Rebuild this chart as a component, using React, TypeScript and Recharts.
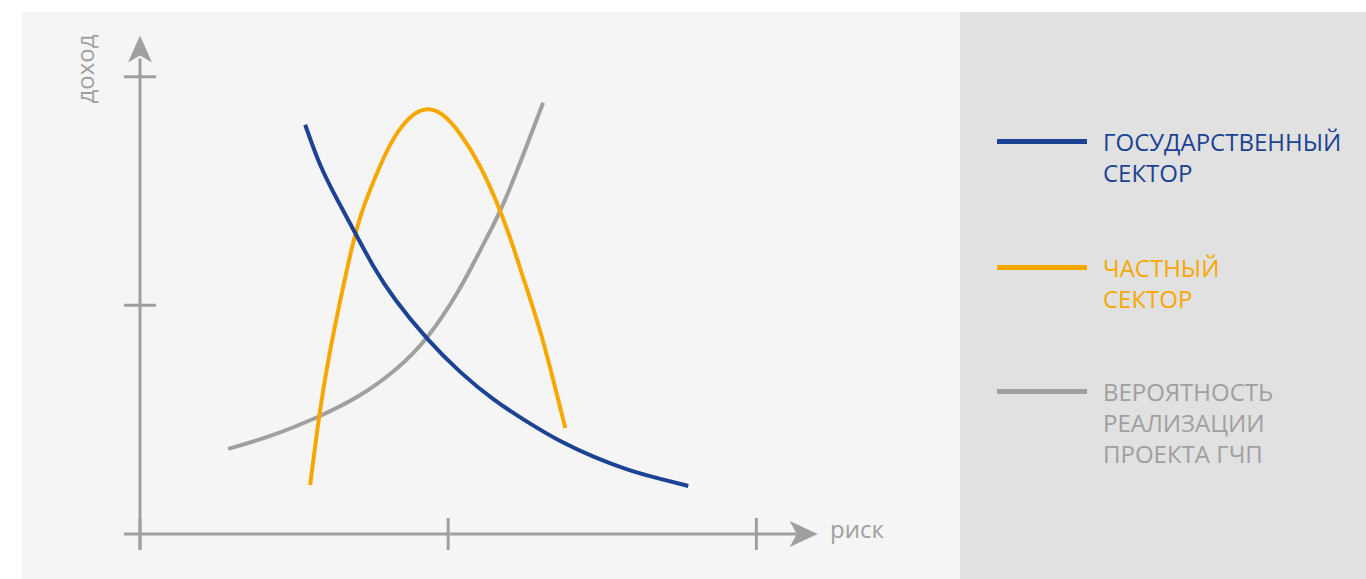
import { ComposedChart, Line, XAxis, YAxis, ReferenceLine, ReferenceDot } from 'recharts';

// x: риск, y: доход (условные единицы)
const stateSector = [
  { x: 5.36, y: 17.9 }, { x: 5.84, y: 16.06 }, { x: 6.4, y: 14.62 }, { x: 6.98, y: 13.17 },
  { x: 7.57, y: 11.68 }, { x: 8.21, y: 10.33 }, { x: 9.32, y: 8.49 }, { x: 10.39, y: 7.05 },
  { x: 11.46, y: 5.86 }, { x: 12.56, y: 4.9 }, { x: 13.64, y: 4.03 }, { x: 14.71, y: 3.37 },
  { x: 15.81, y: 2.8 }, { x: 16.88, y: 2.41 }, { x: 17.79, y: 2.1 },
];

const privateSector = [
  { x: 5.52, y: 2.14 }, { x: 5.75, y: 4.55 }, { x: 5.94, y: 6.3 }, { x: 6.17, y: 8.05 },
  { x: 6.43, y: 9.8 }, { x: 6.92, y: 12.87 }, { x: 7.24, y: 14.31 }, { x: 7.69, y: 15.8 },
  { x: 8.12, y: 17.11 }, { x: 8.67, y: 18.2 }, { x: 9.25, y: 18.7 }, { x: 9.84, y: 18.42 },
  { x: 10.39, y: 17.55 }, { x: 11.04, y: 16.15 }, { x: 11.59, y: 14.49 }, { x: 12.01, y: 13.0 },
  { x: 12.56, y: 10.68 }, { x: 12.99, y: 8.93 }, { x: 13.41, y: 6.74 }, { x: 13.8, y: 4.64 },
];

const pppProbability = [
  { x: 2.86, y: 3.72 }, { x: 4.22, y: 4.25 }, { x: 5.75, y: 5.08 }, { x: 7.14, y: 6.0 },
  { x: 8.34, y: 7.18 }, { x: 9.32, y: 8.49 }, { x: 10.39, y: 10.68 }, { x: 11.04, y: 12.43 },
  { x: 11.69, y: 14.05 }, { x: 12.34, y: 16.24 }, { x: 13.08, y: 18.86 },
];

const xTicks = [0, 10, 20];
const yTicks = [10, 20];

const legendItems = [
  { lines: ['ГОСУДАРСТВЕННЫЙ', 'СЕКТОР'], color: '#1c4393' },
  { lines: ['ЧАСТНЫЙ', 'СЕКТОР'], color: '#f6a800' },
  { lines: ['ВЕРОЯТНОСТЬ', 'РЕАЛИЗАЦИИ', 'ПРОЕКТА ГЧП'], color: '#a0a0a0' },
];

const AXIS = '#a0a0a0';
const FONT = '"Open Sans", sans-serif';

const UpArrow = (props: any) => {
  const { cx, cy } = props;
  return <path d={`M${cx},${cy} L${cx + 12},${cy + 27} L${cx},${cy + 20} L${cx - 12},${cy + 27} Z`} fill={AXIS} />;
};

const RightArrow = (props: any) => {
  const { cx, cy } = props;
  return <path d={`M${cx},${cy} L${cx - 28},${cy - 13} L${cx - 21},${cy} L${cx - 28},${cy + 13} Z`} fill={AXIS} />;
};

const legendTop = [126, 252, 376];

export default function App() {
  return (
    <div style={{ position: 'absolute', left: 0, top: 0, width: 1366, height: 579, background: '#fff', fontFamily: FONT }}>
      <div style={{ position: 'absolute', left: 22, top: 12, width: 938, height: 567, background: '#f5f5f5' }} />
      <div style={{ position: 'absolute', left: 960, top: 12, width: 406, height: 567, background: '#e1e1e1' }} />
      <div style={{ position: 'absolute', left: 0, top: 0 }}>
        <ComposedChart width={960} height={579} margin={{ top: 31, right: 142, bottom: 45, left: 140 }}>
          <XAxis type="number" dataKey="x" domain={[0, 22]} ticks={xTicks} hide allowDuplicatedCategory={false} />
          <YAxis type="number" dataKey="y" domain={[0, 22]} ticks={yTicks} hide />
          <ReferenceLine segment={[{ x: 0, y: -0.7 }, { x: 0, y: 20.8 }]} stroke={AXIS} strokeWidth={3} ifOverflow="visible" />
          <ReferenceLine segment={[{ x: -0.52, y: 0 }, { x: 21.3, y: 0 }]} stroke={AXIS} strokeWidth={3} ifOverflow="visible" />
          {xTicks.map((t) => (
            <ReferenceLine key={'x' + t} segment={[{ x: t, y: -0.7 }, { x: t, y: 0.7 }]} stroke={AXIS} strokeWidth={3} ifOverflow="visible" />
          ))}
          {yTicks.map((t) => (
            <ReferenceLine key={'y' + t} segment={[{ x: -0.52, y: t }, { x: 0.52, y: t }]} stroke={AXIS} strokeWidth={3} ifOverflow="visible" />
          ))}
          <ReferenceDot x={0} y={21.8} ifOverflow="visible" shape={UpArrow} />
          <ReferenceDot x={21.99} y={0} ifOverflow="visible" shape={RightArrow} />
          <Line data={pppProbability} dataKey="y" type="basis" stroke="#a0a0a0" strokeWidth={4} dot={false} isAnimationActive={false} />
          <Line data={privateSector} dataKey="y" type="basis" stroke="#f6a800" strokeWidth={4} dot={false} isAnimationActive={false} />
          <Line data={stateSector} dataKey="y" type="basis" stroke="#1c4393" strokeWidth={4} dot={false} isAnimationActive={false} />
        </ComposedChart>
      </div>
      <div style={{ position: 'absolute', left: 85, top: 69, transform: 'translate(-50%, -50%) rotate(-90deg)', color: AXIS, fontSize: 24, whiteSpace: 'nowrap', lineHeight: 1 }}>
        доход
      </div>
      <div style={{ position: 'absolute', left: 830, top: 517, color: AXIS, fontSize: 24, lineHeight: 1 }}>риск</div>
      {legendItems.map((item, i) => (
        <div key={i}>
          <div style={{ position: 'absolute', left: 997, top: legendTop[i] + 13, width: 90, height: 5, background: item.color }} />
          <div style={{ position: 'absolute', left: 1103, top: legendTop[i], color: item.color, fontSize: 24, lineHeight: '31px' }}>
            {item.lines.map((l) => (
              <div key={l}>{l}</div>
            ))}
          </div>
        </div>
      ))}
    </div>
  );
}
